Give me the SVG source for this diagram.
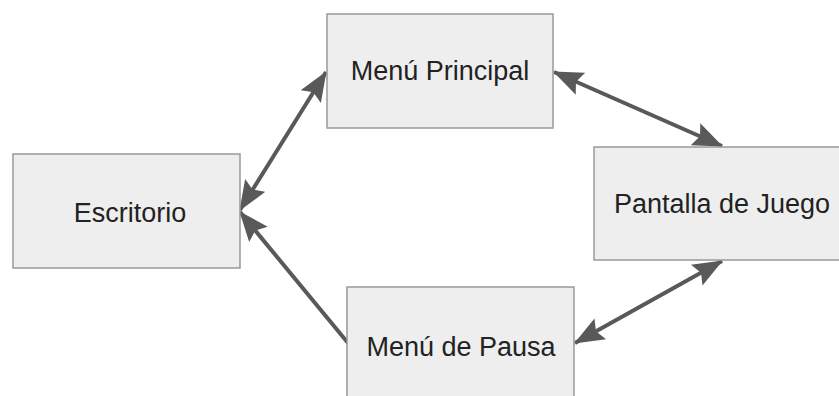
<svg xmlns="http://www.w3.org/2000/svg" width="839" height="396" viewBox="0 0 839 396">
<defs>
<style>
.box{fill:#eeeeee;stroke:#999999;stroke-width:1.5}
.lbl{font-family:"Liberation Sans",Arial,sans-serif;font-size:27px;fill:#222222;text-anchor:middle}
.con{stroke:#595959;stroke-width:4;fill:none}
</style>
<marker id="ah" viewBox="0 0 30 24" markerWidth="30" markerHeight="24" refX="29" refY="12" orient="auto-start-reverse" markerUnits="userSpaceOnUse">
<path d="M0,0 L30,12 L0,24 L5,12 z" fill="#595959"/>
</marker>
</defs>
<rect width="839" height="396" fill="#ffffff"/>
<g id="connectors">
<line class="con" x1="240" y1="210" x2="326" y2="72" marker-start="url(#ah)" marker-end="url(#ah)"/>
<line class="con" x1="554" y1="72" x2="722" y2="146" marker-start="url(#ah)" marker-end="url(#ah)"/>
<line class="con" x1="722" y1="261" x2="575" y2="343" marker-start="url(#ah)" marker-end="url(#ah)"/>
<line class="con" x1="348" y1="343" x2="240" y2="212" marker-end="url(#ah)"/>
</g>
<g id="escritorio">
<rect class="box" x="13" y="154" width="227" height="114"/>
<text class="lbl" x="130" y="222">Escritorio</text>
</g>
<g id="menu-principal">
<rect class="box" x="327" y="14" width="226" height="114"/>
<text class="lbl" x="440" y="80">Menú Principal</text>
</g>
<g id="pantalla-de-juego">
<rect class="box" x="594" y="147" width="260" height="113"/>
<text class="lbl" x="722" y="213">Pantalla de Juego</text>
</g>
<g id="menu-de-pausa">
<rect class="box" x="347" y="287" width="227" height="120"/>
<text class="lbl" x="461" y="356">Menú de Pausa</text>
</g>
</svg>
